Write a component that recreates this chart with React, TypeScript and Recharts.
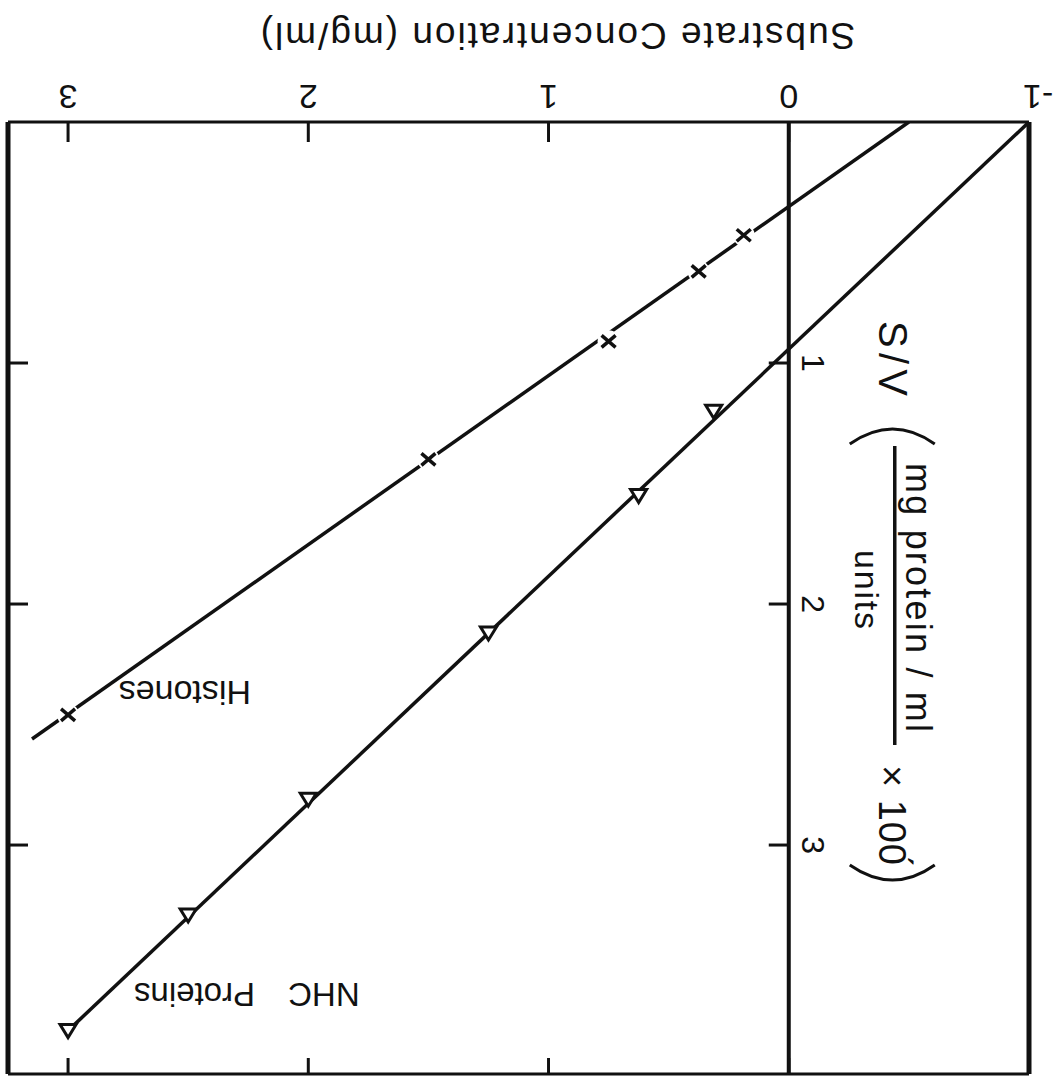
import React from 'react';
import { ComposedChart, Line, Scatter, XAxis, YAxis, ReferenceLine, ReferenceDot } from 'recharts';

// Hanes plot (S/v against S). The scanned figure is upside down, so the whole
// chart is drawn the normal way round and the wrapper is turned 180deg.

const sTicks = [-1, 0, 1, 2, 3];
const svTicks = [1, 2, 3];

const nhcS = [0.3125, 0.625, 1.25, 2, 2.5, 3];
const nhcSV = [1.2, 1.55, 2.12, 2.81, 3.29, 3.77];

const histS = [0.1875, 0.375, 0.75, 1.5, 3];
const histSV = [0.47, 0.62, 0.91, 1.4, 2.46];

// fitted lines (end points)
const nhcFitS = [-1, 3];
const nhcFitSV = [0, 3.77];
const histFitS = [-0.5, 3.15];
const histFitSV = [0, 2.56];

const S_DOMAIN = [-1, 3.25];
const SV_DOMAIN = [0, 3.95];

const W = 1064;
const H = 1078;
const INK = '#111';
const FONT = '"Liberation Sans", Arial, Helvetica, sans-serif';

const toPts = (xs: number[], ys: number[]) => xs.map((s, i) => ({ s, sv: ys[i] }));

const nhcPts = toPts(nhcS, nhcSV);
const histPts = toPts(histS, histSV);
const nhcFit = toPts(nhcFitS, nhcFitSV);
const histFit = toPts(histFitS, histFitSV);

function XTick(props: any) {
  const { x, y, payload } = props;
  const v = payload.value;
  return (
    <g>
      <line x1={x} y1={y} x2={x} y2={y - 20} stroke={INK} strokeWidth={3} />
      <text x={v < 0 ? x - 9 : x} y={y + 37} textAnchor="middle" fontSize={34} fontFamily={FONT} fill={INK}>
        {v < 0 ? `-${-v}` : String(v)}
      </text>
    </g>
  );
}

const Tri = (p: any) => (
  <path
    d={`M ${p.cx} ${p.cy - 7} L ${p.cx + 8} ${p.cy + 6} L ${p.cx - 8} ${p.cy + 6} Z`}
    fill="#fff"
    stroke={INK}
    strokeWidth={3}
  />
);

const Cross = (p: any) => (
  <g>
    <circle cx={p.cx} cy={p.cy} r={11} fill="#fff" />
    <path
      d={`M ${p.cx - 7} ${p.cy - 6} L ${p.cx + 7} ${p.cy + 6} M ${p.cx - 7} ${p.cy + 6} L ${p.cx + 7} ${p.cy - 6}`}
      stroke={INK}
      strokeWidth={3.5}
    />
  </g>
);

// S/V axis title, drawn along the zero line
function SvTitle(props: any) {
  const vb = props.viewBox || { x: 0, y: 0, height: 0 };
  const ox = vb.x - 106;
  const oy = vb.y + vb.height - 324;
  return (
    <g transform={`translate(${ox},${oy}) rotate(-90)`} fill={INK} fontFamily={FONT}>
      <text x={-125} y={16} fontSize={40} textLength={75} lengthAdjust="spacing">S/V</text>
      <path d="M -2 -40 Q -32 2 -2 45" fill="none" stroke={INK} strokeWidth={3} />
      <text x={17} y={-11} fontSize={36} textLength={269} lengthAdjust="spacing">mg protein / ml</text>
      <line x1={0} y1={0} x2={299} y2={0} stroke={INK} strokeWidth={3.5} />
      <text x={104} y={40} fontSize={34} textLength={79} lengthAdjust="spacing">units</text>
      <text x={319} y={16} fontSize={38} textLength={100} lengthAdjust="spacing">× 100́</text>
      <path d="M 419 -40 Q 449 2 419 45" fill="none" stroke={INK} strokeWidth={3} />
    </g>
  );
}

function XTitle(props: any) {
  const vb = props.viewBox || { x: 0, y: 0 };
  return (
    <text
      x={vb.x + 472}
      y={vb.y + 99}
      textAnchor="middle"
      fontSize={37}
      fontFamily={FONT}
      fill={INK}
      style={{ letterSpacing: 2 }}
    >
      Substrate Concentration (mg/ml)
    </text>
  );
}

export default function App() {
  return (
    <div
      style={{
        position: 'absolute',
        left: 0,
        top: 0,
        width: W,
        height: H,
        background: '#fff',
        transform: 'rotate(180deg)',
      }}
    >
      <ComposedChart width={W} height={H} margin={{ top: 4, right: 8, bottom: 0, left: 35 }}>
        <XAxis
          type="number"
          dataKey="s"
          domain={S_DOMAIN}
          ticks={sTicks}
          interval={0}
          allowDataOverflow
          height={122}
          axisLine={false}
          tickLine={false}
          tickSize={0}
          tickMargin={0}
          tick={(p: any) => <XTick {...p} />}
          label={(p: any) => <XTitle {...p} />}
        />
        <YAxis type="number" dataKey="sv" domain={SV_DOMAIN} allowDataOverflow hide />

        {/* frame */}
        <ReferenceLine x={-1} stroke={INK} strokeWidth={5} />
        <ReferenceLine x={3.25} stroke={INK} strokeWidth={5} />
        <ReferenceLine y={0} stroke={INK} strokeWidth={3} />
        <ReferenceLine y={3.95} stroke={INK} strokeWidth={3} />
        <ReferenceLine x={0} stroke={INK} strokeWidth={4} label={(p: any) => <SvTitle {...p} />} />

        {/* inward ticks on the far edges */}
        {sTicks.map((v) => (
          <ReferenceDot
            key={`t${v}`}
            x={v}
            y={3.95}
            r={0}
            shape={(p: any) => <line x1={p.cx} y1={p.cy} x2={p.cx} y2={p.cy + 16} stroke={INK} strokeWidth={3} />}
          />
        ))}
        {svTicks.map((v) => (
          <ReferenceDot
            key={`r${v}`}
            x={3.25}
            y={v}
            r={0}
            shape={(p: any) => <line x1={p.cx} y1={p.cy} x2={p.cx - 20} y2={p.cy} stroke={INK} strokeWidth={3} />}
          />
        ))}

        {/* S/V axis on the zero line */}
        {svTicks.map((v) => (
          <ReferenceDot
            key={`y${v}`}
            x={0}
            y={v}
            r={0}
            shape={(p: any) => (
              <g>
                <line x1={p.cx} y1={p.cy} x2={p.cx + 20} y2={p.cy} stroke={INK} strokeWidth={3} />
                <text
                  transform={`translate(${p.cx - 13},${p.cy}) rotate(-90)`}
                  textAnchor="middle"
                  fontSize={32}
                  fontFamily={FONT}
                  fill={INK}
                >
                  {v}
                </text>
              </g>
            )}
          />
        ))}

        <Line data={nhcFit} dataKey="sv" type="linear" stroke={INK} strokeWidth={3.5} dot={false} isAnimationActive={false} />
        <Line data={histFit} dataKey="sv" type="linear" stroke={INK} strokeWidth={3.5} dot={false} isAnimationActive={false} />
        <Scatter data={histPts} dataKey="sv" shape={Cross} isAnimationActive={false} />
        <Scatter data={nhcPts} dataKey="sv" shape={Tri} isAnimationActive={false} />

        <ReferenceDot
          x={2.514}
          y={2.32}
          r={0}
          shape={(p: any) => (
            <text x={p.cx} y={p.cy} textAnchor="middle" fontSize={34} fontFamily={FONT} fill={INK}>
              Histones
            </text>
          )}
        />
        <ReferenceDot
          x={2.256}
          y={3.573}
          r={0}
          shape={(p: any) => (
            <text
              x={p.cx}
              y={p.cy}
              textAnchor="middle"
              fontSize={33}
              fontFamily={FONT}
              fill={INK}
              style={{ wordSpacing: 24 }}
            >
              NHC Proteins
            </text>
          )}
        />
      </ComposedChart>
    </div>
  );
}
